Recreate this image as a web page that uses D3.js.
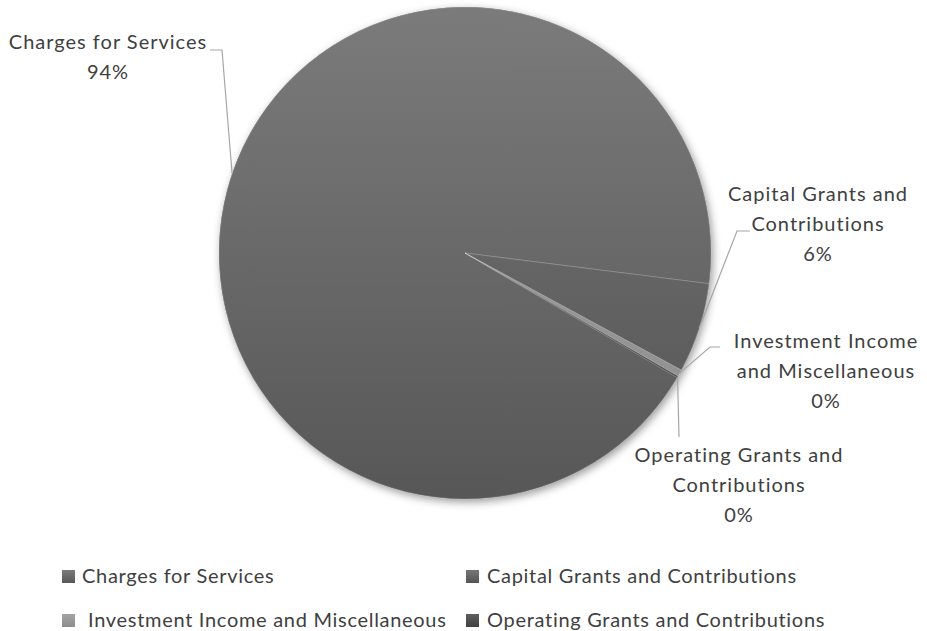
<!DOCTYPE html>
<html>
<head>
<meta charset="utf-8">
<script src="https://cdn.jsdelivr.net/npm/d3@7"></script>
<style>
  html, body { margin: 0; padding: 0; background: #fff; }
  svg { display: block; }
  text { font-family: Lato, "Open Sans", sans-serif; fill: #404040; }
</style>
</head>
<body>
<svg id="chart" width="927" height="631"></svg>
<script>
// ---- data ----
const categories = ["Charges for Services", "Capital Grants and Contributions", "Investment Income and Miscellaneous", "Operating Grants and Contributions"];
const values = [93.55, 5.9, 0.45, 0.1];
const percentLabels = ["94%", "6%", "0%", "0%"];
const labelLines = [
  ["Charges for Services", "94%"],
  ["Capital Grants and", "Contributions", "6%"],
  ["Investment Income", "and Miscellaneous", "0%"],
  ["Operating Grants and", "Contributions", "0%"]
];
const colorsTop = ["#7b7b7b", "#777777", "#a4a4a4", "#5e5e5e"];
const colorsBottom = ["#575757", "#545454", "#8c8c8c", "#404040"];

// ---- layout ----
const W = 927, H = 631;
const cx = 465, cy = 253, R = 246;
const fontSize = 20;
const lineH = 30;
const startDeg = 120.4;

const svg = d3.select("#chart");
const defs = svg.append("defs");

categories.forEach((c, i) => {
  const g = defs.append("linearGradient")
    .attr("id", "grad" + i)
    .attr("gradientUnits", "userSpaceOnUse")
    .attr("x1", 0).attr("y1", -R).attr("x2", 0).attr("y2", R);
  g.append("stop").attr("offset", "0%").attr("stop-color", colorsTop[i]);
  g.append("stop").attr("offset", "100%").attr("stop-color", colorsBottom[i]);
  const lg = defs.append("linearGradient")
    .attr("id", "lgrad" + i).attr("x1", 0).attr("y1", 0).attr("x2", 0).attr("y2", 1);
  lg.append("stop").attr("offset", "0%").attr("stop-color", colorsTop[i]);
  lg.append("stop").attr("offset", "100%").attr("stop-color", colorsBottom[i]);
});

const shadow = defs.append("filter").attr("id", "shadow")
  .attr("x", "-10%").attr("y", "-10%").attr("width", "120%").attr("height", "120%");
shadow.append("feDropShadow")
  .attr("dx", 2).attr("dy", 3).attr("stdDeviation", 4)
  .attr("flood-color", "#000").attr("flood-opacity", 0.4);

const data = categories.map((c, i) => ({ name: c, value: values[i], idx: i }));

const pie = d3.pie()
  .sort(null)
  .value(d => d.value)
  .startAngle(startDeg * Math.PI / 180)
  .endAngle(startDeg * Math.PI / 180 + 2 * Math.PI);

const arcs = pie(data);
const arc = d3.arc().innerRadius(0).outerRadius(R);

const g = svg.append("g").attr("transform", `translate(${cx},${cy})`);

g.append("circle").attr("r", R).attr("fill", "#666").attr("filter", "url(#shadow)");

g.selectAll("path.slice")
  .data(arcs)
  .join("path")
  .attr("class", "slice")
  .attr("d", arc)
  .attr("fill", (d, i) => "url(#grad" + i + ")")
  .attr("stroke", "rgba(255,255,255,0.18)")
  .attr("stroke-width", 1);

// ---- data labels & leader lines ----
const labelPos = [
  { x: 108, y: 49, anchorEnd: [210, 50], elbow: [222, 50] },
  { x: 818, y: 201, anchorEnd: [750, 231], elbow: [737, 231] },
  { x: 826, y: 348, anchorEnd: [720, 347], elbow: [710, 347] },
  { x: 739, y: 462, anchorEnd: null, elbow: [679, 437] }
];

function edgePoint(d) {
  const a = (d.startAngle + d.endAngle) / 2;
  return [cx + R * Math.sin(a), cy - R * Math.cos(a)];
}

arcs.forEach((d, i) => {
  const p = edgePoint(d);
  const lp = labelPos[i];
  const pts = [p, lp.elbow];
  if (lp.anchorEnd) pts.push(lp.anchorEnd);
  svg.append("path")
    .attr("d", d3.line()(pts))
    .attr("fill", "none")
    .attr("stroke", "#a6a6a6")
    .attr("stroke-width", 1.2);

  const t = svg.append("text")
    .attr("text-anchor", "middle")
    .attr("font-size", fontSize)
    .attr("letter-spacing", 1);
  labelLines[i].forEach((ln, k) => {
    t.append("tspan").attr("x", lp.x).attr("y", lp.y + k * lineH).text(ln);
  });
});

// ---- legend ----
const legendCols = [62, 466];
const legendRows = [583, 627];
const legendTextX = [[82, 487], [88, 487]];
data.forEach((d, i) => {
  const col = i % 2, row = Math.floor(i / 2);
  const lx = legendCols[col], ly = legendRows[row];
  svg.append("rect")
    .attr("x", lx).attr("y", ly - 13)
    .attr("width", 13).attr("height", 13)
    .attr("fill", "url(#lgrad" + i + ")");
  svg.append("text")
    .attr("x", legendTextX[row][col]).attr("y", ly)
    .attr("font-size", fontSize)
    .attr("letter-spacing", 0.7)
    .text(d.name);
});
</script>
</body>
</html>
